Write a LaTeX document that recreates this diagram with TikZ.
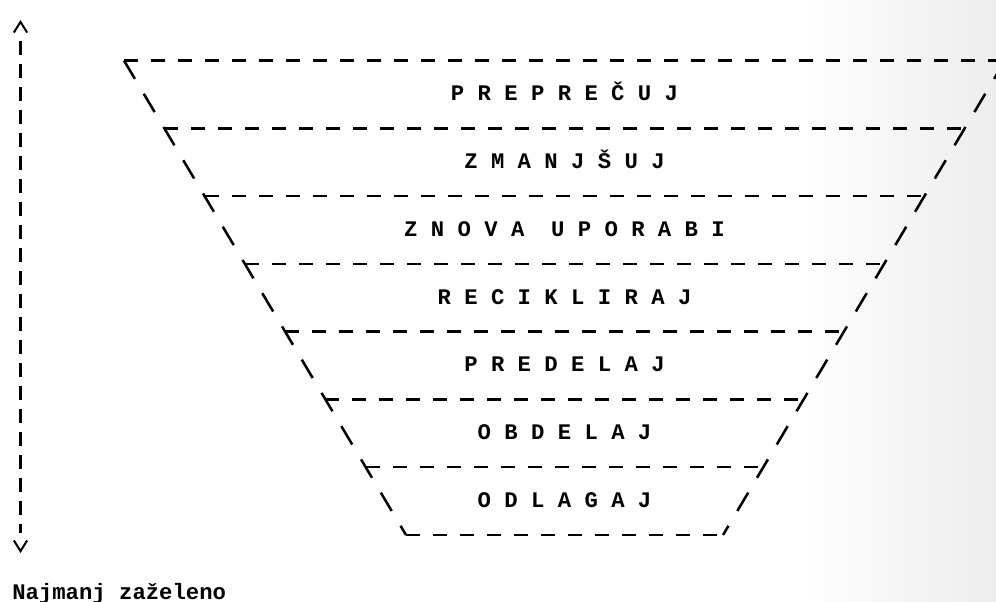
\documentclass[tikz,border=0pt]{standalone}
\usepackage{fontspec}
\setmonofont{Liberation Mono}
\usetikzlibrary{arrows.meta,calc}

\begin{document}
\begin{tikzpicture}[x=0.75pt,y=-0.75pt,
  rung/.style={line width=1.9pt,dash pattern=on 10.5pt off 9.75pt},
  side/.style={line width=1.9pt,dash pattern=on 16pt off 13pt},
  axis/.style={line width=1.9pt,dash pattern=on 10.5pt off 6.75pt},
  chevron/.style={tips=true,line width=1.5pt,
    {Straight Barb[length=8pt,width=10pt]}-{Straight Barb[length=8pt,width=10pt]}},
  level/.style={font=\ttfamily\bfseries\fontsize{16.7}{20}\selectfont,inner sep=0pt,anchor=base}]
  \useasboundingbox (0,0) rectangle (996,601);
  \clip (0,0) rectangle (996,601);
  \shade[left color=white,right color=black!7] (800,0) rectangle (996,601);

  % trapezoid corners
  \coordinate (tl) at (124,60.5);
  \coordinate (tr) at (1005,60.5);
  \coordinate (bl) at (406,535);
  \coordinate (br) at (723,535);
  \draw[side] (tl) -- (bl);
  \draw[side] (tr) -- (br);
  \foreach \k in {0,...,7}
    \draw[rung] ($(tl)!\k/7!(bl)$) -- ($(tr)!\k/7!(br)$);

  % levels
  \foreach \k/\txt in {1/{P R E P R E Č U J},2/{Z M A N J Š U J},
      3/{Z N O V A\ \ U P O R A B I},4/{R E C I K L I R A J},
      5/{P R E D E L A J},6/{O B D E L A J},7/{O D L A G A J}}
    \node[level] (l\k) at (564.5,{60.5+67.8*\k-33.9+6.2}) {\txt};

  % side arrow
  \coordinate (up) at (20.5,20);
  \coordinate (down) at (20.5,553);
  \draw[axis,shorten <=15.75pt,shorten >=15pt] (up) -- (down);
  \path[chevron] (up) -- (down);
  \node[level,anchor=base west] (least) at (12,599) {Najmanj zaželeno};
\end{tikzpicture}
\end{document}
